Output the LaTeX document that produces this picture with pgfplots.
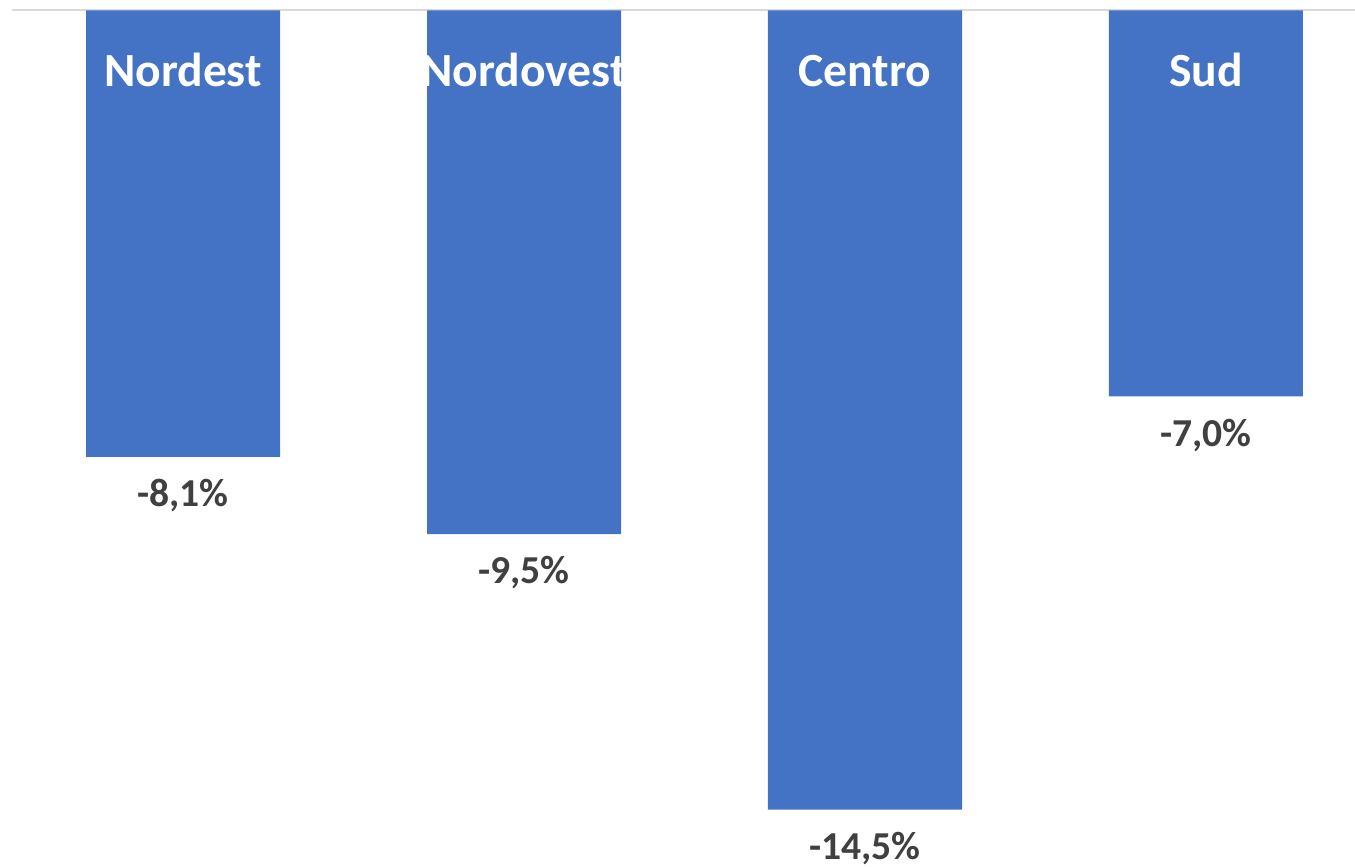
\documentclass[border=0pt]{standalone}
\usepackage{fontspec}
\setmainfont{Carlito}
\usepackage{pgfplots}
\pgfplotsset{compat=1.18}
\definecolor{barblue}{HTML}{4472C4}
\definecolor{lbl}{HTML}{404040}
\definecolor{zline}{HTML}{D9D9D9}
\begin{document}
\begin{tikzpicture}[x=1pt,y=1pt]
\useasboundingbox (0,0) rectangle (677.5,433.5);
\begin{axis}[at={(6pt,0pt)}, anchor=south west, scale only axis,
  width=671.5pt, height=428.25pt,
  xmin=-0.5015, xmax=3.437, ymin=-15.54, ymax=0,
  hide axis, clip=false, ybar, bar width=97pt,
  nodes near coords, point meta=explicit symbolic,
  every node near coord/.append style={anchor=base, yshift=-24.85pt, color=lbl, font=\fontsize{19.8pt}{20pt}\selectfont\bfseries}]
\draw[zline, line width=1pt] (rel axis cs:0,1) -- (rel axis cs:1,1);
\addplot[fill=barblue, draw=none] table[meta=label] {
x y label
0 -8.1 {-8,1\%}
1 -9.5 {-9,5\%}
2 -14.5 {-14,5\%}
3 -7.0 {-7,0\%}
};
\node[white, anchor=base, yshift=-38.25pt, font=\fontsize{23.8pt}{24pt}\selectfont\bfseries] at (axis cs:0,0) {Nordest};
\node[white, anchor=base, yshift=-38.25pt, font=\fontsize{23.8pt}{24pt}\selectfont\bfseries] at (axis cs:1,0) {Nordovest};
\node[white, anchor=base, yshift=-38.25pt, font=\fontsize{23.8pt}{24pt}\selectfont\bfseries] at (axis cs:2,0) {Centro};
\node[white, anchor=base, yshift=-38.25pt, font=\fontsize{23.8pt}{24pt}\selectfont\bfseries] at (axis cs:3,0) {Sud};
\end{axis}
\end{tikzpicture}
\end{document}
